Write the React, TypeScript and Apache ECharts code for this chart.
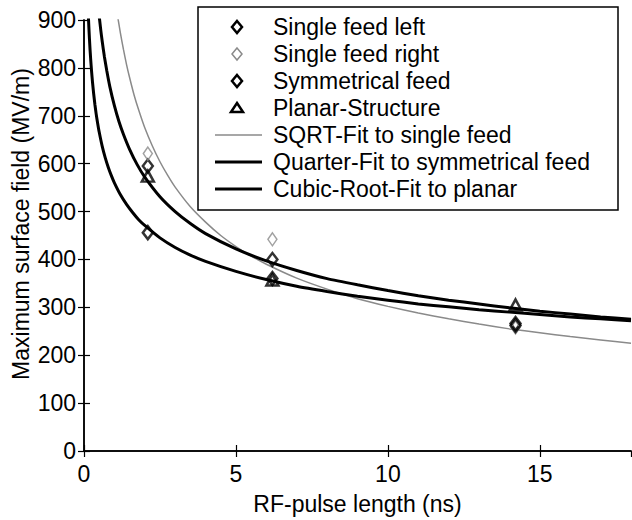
import React, { useEffect, useRef } from "react";
import * as echarts from "echarts";

// Measured points
const pulseLength = [2.1, 6.2, 14.2];
const singleFeedLeft = [595, 400, 266];
const singleFeedRight = [621, 442, 258];
const symmetricalFeed = [456, 360, 262];
const planarStructure = [574, 357, 305];

// Fit curves
const sqrtFitX = [1.1, 1.2, 1.3, 1.4, 1.5, 1.65, 1.8, 2, 2.25, 2.5, 2.75, 3, 3.5, 4, 4.5, 5, 5.5, 6, 7, 8, 9, 10, 11, 12, 13, 14, 15, 16, 17, 18];
const sqrtFitY = [910, 872, 838, 807, 780, 743, 712, 675, 637, 604, 576, 551, 510, 478, 450, 427, 407, 390, 361, 338, 318, 302, 288, 276, 265, 255, 247, 239, 232, 225];
const quarterFitX = [0.14, 0.15, 0.16, 0.18, 0.2, 0.22, 0.25, 0.28, 0.32, 0.36, 0.4, 0.45, 0.5, 0.6, 0.7, 0.8, 0.9, 1, 1.2, 1.4, 1.6, 1.8, 2, 2.5, 3, 3.5, 4, 5, 6, 7, 8, 9, 10, 11, 12, 13, 14, 15, 16, 17, 18];
const quarterFitY = [915, 900, 885, 860, 837, 818, 792, 770, 745, 723, 704, 684, 666, 636, 612, 592, 575, 560, 535, 515, 498, 483, 471, 445, 425, 409, 396, 375, 358, 344, 333, 323, 315, 307, 301, 295, 290, 285, 280, 276, 272];
const cubicFitX = [0.5, 0.55, 0.6, 0.67, 0.75, 0.85, 1, 1.15, 1.3, 1.5, 1.75, 2, 2.5, 3, 3.5, 4, 5, 6, 7, 8, 9, 10, 11, 12, 13, 14, 15, 16, 17, 18];
const cubicFitY = [908, 880, 855, 824, 794, 761, 721, 688, 661, 630, 598, 572, 531, 500, 475, 454, 422, 397, 377, 360, 347, 335, 324, 315, 307, 299, 292, 286, 280, 275];

const xTicks = [0, 5, 10, 15];
const legendNames = [
  "Single feed left",
  "Single feed right",
  "Symmetrical feed",
  "Planar-Structure",
  "SQRT-Fit to single feed",
  "Quarter-Fit to symmetrical feed",
  "Cubic-Root-Fit to planar",
];

const FONT = "'Liberation Sans', Arial, Helvetica, sans-serif";
const GREY = "#8a8a8a";

const zip = (xs: number[], ys: number[]) => xs.map((x, i) => [x, ys[i]]);

function legendGraphic() {
  const lx = 198, ly = 7, lw = 420, lh = 203;
  const rowY0 = 27, rowGap = 27, markX = 237, textX = 273;
  const els: any[] = [
    { type: "rect", shape: { x: lx, y: ly, width: lw, height: lh }, style: { fill: "#fff", stroke: "#000", lineWidth: 1.5 }, z: 100 },
  ];
  const diamond = (cy: number, stroke: string, lw2: number) => ({
    type: "polygon",
    shape: { points: [[markX, cy - 6], [markX + 5, cy], [markX, cy + 6], [markX - 5, cy]] },
    style: { fill: "#fff", stroke, lineWidth: lw2 },
    z: 101,
  });
  legendNames.forEach((name, i) => {
    const cy = rowY0 + i * rowGap;
    if (i === 0) els.push(diamond(cy, "#000", 2.5));
    if (i === 1) els.push(diamond(cy, GREY, 1.5));
    if (i === 2) els.push(diamond(cy, "#000", 2.5));
    if (i === 3)
      els.push({
        type: "polygon",
        shape: { points: [[markX, cy - 5], [markX + 6, cy + 4], [markX - 6, cy + 4]] },
        style: { fill: "#fff", stroke: "#000", lineWidth: 2.5 },
        z: 101,
      });
    if (i >= 4)
      els.push({
        type: "line",
        shape: { x1: 215, y1: cy, x2: 262, y2: cy },
        style: { stroke: i === 4 ? GREY : "#000", lineWidth: i === 4 ? 1.5 : 3 },
        z: 101,
      });
    els.push({
      type: "text",
      x: textX,
      y: cy,
      style: { text: name, font: `23px ${FONT}`, fill: "#000", verticalAlign: "middle", align: "left" },
      z: 101,
    });
  });
  return els;
}

export default function App() {
  const ref = useRef<HTMLDivElement>(null);
  useEffect(() => {
    const chart = echarts.init(ref.current!, null, { renderer: "svg" });
    const axisCommon = {
      axisLine: { show: true, lineStyle: { color: "#000", width: 1.5 } },
      axisTick: { show: true, inside: true, length: 6, lineStyle: { color: "#000", width: 1.2 } },
      splitLine: { show: false },
    };
    const fitLine = (name: string, xs: number[], ys: number[], color: string, width: number) => ({
      name, type: "line", data: zip(xs, ys), showSymbol: false, smooth: 0.2,
      lineStyle: { color, width }, clip: true, z: 2,
    });
    const option: any = {
      animation: false,
      backgroundColor: "#fff",
      grid: { left: 84, right: 1, top: 20, bottom: 65, containLabel: false },
      xAxis: [
        {
          type: "value", min: 0, max: 18, interval: 5, position: "bottom", ...axisCommon,
          axisLabel: {
            color: "#000", fontSize: 23, fontFamily: FONT, margin: 11, showMaxLabel: false,
            formatter: (v: number) => (xTicks.includes(v) ? String(v) : ""),
          },
          name: "RF-pulse length (ns)", nameLocation: "middle", nameGap: 41,
          nameTextStyle: { color: "#000", fontSize: 23, fontFamily: FONT },
        },
        { type: "value", min: 0, max: 18, interval: 5, position: "top", ...axisCommon, axisLabel: { show: false } },
      ],
      yAxis: [
        {
          type: "value", min: 0, max: 900, interval: 100, position: "left", ...axisCommon,
          axisLabel: { color: "#000", fontSize: 23, fontFamily: FONT, margin: 8 },
        },
        { type: "value", min: 0, max: 900, interval: 100, position: "right", ...axisCommon, axisLabel: { show: false } },
      ],
      graphic: [
        {
          type: "text", x: 21, y: 224, rotation: Math.PI / 2, z: 100,
          style: { text: "Maximum surface field (MV/m)", font: `23px ${FONT}`, fill: "#000", align: "center", verticalAlign: "middle" },
        },
        ...legendGraphic(),
      ],
      series: [
        fitLine(legendNames[4], sqrtFitX, sqrtFitY, GREY, 1.5),
        fitLine(legendNames[5], quarterFitX, quarterFitY, "#000", 3),
        fitLine(legendNames[6], cubicFitX, cubicFitY, "#000", 3),
        {
          name: legendNames[0], type: "scatter", data: zip(pulseLength, singleFeedLeft), symbol: "diamond", symbolSize: [10, 13],
          itemStyle: { color: "transparent", borderColor: "#000", borderWidth: 2.5 }, z: 3,
        },
        {
          name: legendNames[1], type: "scatter", data: zip(pulseLength, singleFeedRight), symbol: "diamond", symbolSize: [9, 13],
          itemStyle: { color: "transparent", borderColor: GREY, borderWidth: 1.5 }, z: 3,
        },
        {
          name: legendNames[2], type: "scatter", data: zip(pulseLength, symmetricalFeed), symbol: "diamond", symbolSize: [10, 13],
          itemStyle: { color: "transparent", borderColor: "#000", borderWidth: 2.5 }, z: 3,
        },
        {
          name: legendNames[3], type: "scatter", data: zip(pulseLength, planarStructure), symbol: "triangle", symbolSize: [12, 11],
          itemStyle: { color: "transparent", borderColor: "#000", borderWidth: 2.5 }, z: 3,
        },
      ],
    };
    chart.setOption(option);
    return () => chart.dispose();
  }, []);
  return (
    <div
      ref={ref}
      style={{ position: "fixed", left: 0, top: 0, width: 632, height: 520, background: "#fff" }}
    />
  );
}
